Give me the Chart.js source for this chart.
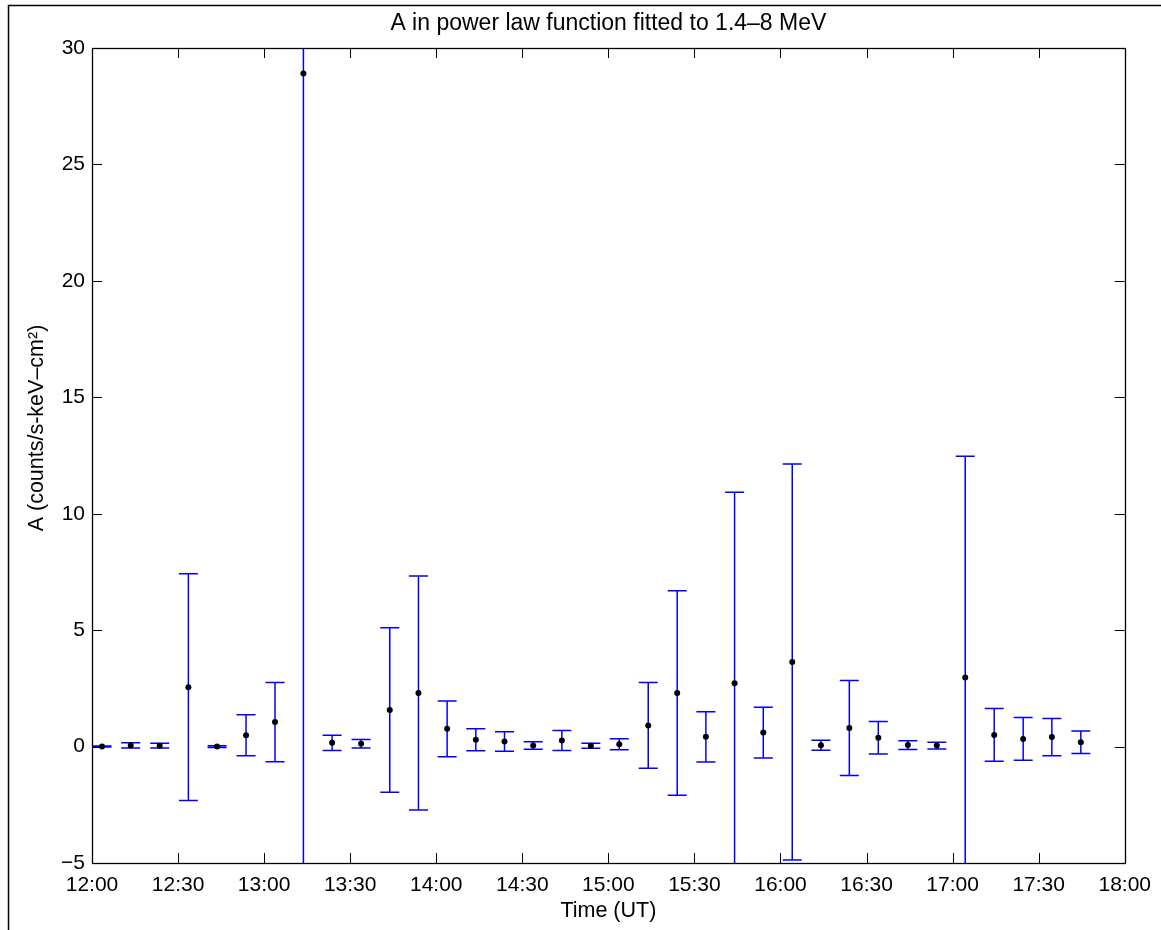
<!DOCTYPE html>
<html>
<head>
<meta charset="utf-8">
<script src="https://cdn.jsdelivr.net/npm/chart.js@4/dist/chart.umd.min.js"></script>
<style>
html,body{margin:0;padding:0;background:#fff;}
#wrap{width:1161px;height:930px;position:relative;}
canvas{display:block;}
</style>
</head>
<body>
<div id="wrap"><canvas id="c" width="1161" height="930"></canvas></div>
<script>
// Time of each fit, minutes after 12:00 UT
const timesMin = [3.5, 13.5, 23.6, 33.6, 43.6, 53.7, 63.8, 73.7, 83.7, 93.8,
  103.8, 113.8, 123.8, 133.8, 143.8, 153.8, 163.8, 173.9, 183.8, 193.9,
  204.0, 214.0, 224.0, 234.0, 244.1, 254.1, 264.0, 274.1, 284.4, 294.5,
  304.4, 314.5, 324.6, 334.6, 344.7];
// Fitted A values (counts/s-keV-cm^2)
const aValues = [0.00, 0.05, 0.04, 2.55, 0.00, 0.49, 1.05, 28.9, 0.16, 0.12,
  1.57, 2.30, 0.76, 0.29, 0.22, 0.05, 0.26, 0.035, 0.10, 0.91,
  2.30, 0.42, 2.72, 0.60, 3.63, 0.06, 0.80, 0.38, 0.065, 0.045,
  2.97, 0.50, 0.33, 0.41, 0.185];
// 1-sigma errors on A
const aErrors = [0.02, 0.11, 0.105, 4.87, 0.04, 0.88, 1.70, 36.0, 0.33, 0.18,
  3.53, 5.02, 1.20, 0.47, 0.42, 0.16, 0.43, 0.105, 0.24, 1.84,
  4.39, 1.08, 8.2, 1.09, 8.5, 0.215, 2.04, 0.70, 0.19, 0.145,
  9.5, 1.13, 0.92, 0.80, 0.485];
const xTickValues = [0, 30, 60, 90, 120, 150, 180, 210, 240, 270, 300, 330, 360];
const xTickLabels = ['12:00','12:30','13:00','13:30','14:00','14:30','15:00','15:30','16:00','16:30','17:00','17:30','18:00'];
const yTickValues = [-5, 0, 5, 10, 15, 20, 25, 30];
const yTickLabels = ['\u22125','0','5','10','15','20','25','30'];
const titleText = 'A in power law function fitted to 1.4\u20138 MeV';
const xLabelText = 'Time (UT)';
const yLabelText = 'A (counts/s-keV\u2013cm\u00b2)';

const FONT = "'Liberation Sans', Arial, Helvetica, sans-serif";
const BLUE = '#0000ff';

const matlabPlugin = {
  id: 'matlabPlugin',
  beforeDraw(chart) {
    const ctx = chart.ctx;
    ctx.save();
    ctx.fillStyle = '#fff';
    ctx.fillRect(0, 0, chart.width, chart.height);
    ctx.strokeStyle = '#000';
    ctx.lineWidth = 1.5;
    ctx.beginPath();
    ctx.moveTo(8.5, chart.height);
    ctx.lineTo(8.5, 5.5);
    ctx.lineTo(chart.width, 5.5);
    ctx.stroke();
    ctx.restore();
  },
  beforeDatasetsDraw(chart) {
    const ctx = chart.ctx, a = chart.chartArea;
    const xs = chart.scales.x, ys = chart.scales.y;
    const cap = 9.5;
    ctx.save();
    ctx.beginPath();
    ctx.rect(a.left, a.top, a.right - a.left, a.bottom - a.top);
    ctx.clip();
    ctx.strokeStyle = BLUE;
    ctx.lineWidth = 1.5;
    for (let i = 0; i < timesMin.length; i++) {
      const px = xs.getPixelForValue(timesMin[i]);
      const hi = ys.getPixelForValue(aValues[i] + aErrors[i]);
      const lo = ys.getPixelForValue(aValues[i] - aErrors[i]);
      ctx.beginPath();
      ctx.moveTo(px, lo); ctx.lineTo(px, hi);
      ctx.moveTo(px - cap, hi); ctx.lineTo(px + cap, hi);
      ctx.moveTo(px - cap, lo); ctx.lineTo(px + cap, lo);
      ctx.stroke();
    }
    ctx.restore();
  },
  afterDatasetsDraw(chart) {
    const ctx = chart.ctx, a = chart.chartArea;
    const xs = chart.scales.x, ys = chart.scales.y;
    const tl = 10;
    ctx.save();
    ctx.strokeStyle = '#000';
    ctx.lineWidth = 1;
    ctx.beginPath();
    for (const v of xTickValues) {
      const px = Math.round(xs.getPixelForValue(v)) + 0.5;
      ctx.moveTo(px, a.bottom); ctx.lineTo(px, a.bottom - tl);
      ctx.moveTo(px, a.top); ctx.lineTo(px, a.top + tl);
    }
    for (const v of yTickValues) {
      const py = Math.round(ys.getPixelForValue(v)) + 0.5;
      ctx.moveTo(a.left, py); ctx.lineTo(a.left + tl, py);
      ctx.moveTo(a.right, py); ctx.lineTo(a.right - tl, py);
    }
    ctx.stroke();
    ctx.lineWidth = 1.3;
    ctx.strokeRect(Math.round(a.left) + 0.5, Math.round(a.top) + 0.5,
      Math.round(a.right - a.left), Math.round(a.bottom - a.top));
    ctx.restore();
  },
  afterDraw(chart) {
    // y-axis label, placed as in the original figure (slightly above axis centre)
    const ctx = chart.ctx;
    ctx.save();
    ctx.fillStyle = '#000';
    ctx.font = '21.5px ' + FONT;
    ctx.textAlign = 'center';
    ctx.textBaseline = 'middle';
    ctx.translate(37, 428);
    ctx.rotate(-Math.PI / 2);
    ctx.fillText(yLabelText, 0, 0);
    ctx.restore();
  }
};

new Chart(document.getElementById('c'), {
  type: 'scatter',
  data: {
    datasets: [{
      label: 'A',
      xAxisID: 'x',
      yAxisID: 'y',
      data: timesMin.map((t, i) => ({ x: t, y: aValues[i] })),
      pointRadius: 3,
      pointHoverRadius: 3,
      pointBackgroundColor: '#000',
      pointBorderWidth: 0,
      showLine: false
    }]
  },
  options: {
    responsive: false,
    devicePixelRatio: 1,
    animation: false,
    events: [],
    layout: { padding: { left: 0, right: 34, top: 0, bottom: 0 } },
    plugins: {
      legend: { display: false },
      tooltip: { enabled: false },
      title: { display: false }
    },
    scales: {
      x: {
        type: 'linear',
        position: 'bottom',
        min: 0, max: 360,
        afterFit(s) { s.height = 67; },
        afterBuildTicks(s) { s.ticks = xTickValues.map(v => ({ value: v })); },
        grid: { display: false, drawTicks: false },
        border: { display: false },
        ticks: {
          autoSkip: false, maxRotation: 0, padding: 10,
          color: '#000',
          font: { family: FONT, size: 21 },
          callback: (v) => xTickLabels[xTickValues.indexOf(v)]
        },
        title: {
          display: true, text: xLabelText, color: '#000',
          font: { family: FONT, size: 21.5 },
          padding: { top: 0, bottom: 6 }
        }
      },
      titleAxis: {
        type: 'linear',
        position: 'top',
        min: 0, max: 360,
        afterFit(s) { s.height = 48; },
        grid: { display: false, drawTicks: false },
        border: { display: false },
        ticks: { display: false },
        title: {
          display: true,
          text: titleText,
          color: '#000',
          font: { family: FONT, size: 23 },
          padding: { top: 10, bottom: 0 }
        }
      },
      y: {
        type: 'linear',
        position: 'left',
        min: -5, max: 30,
        afterFit(s) { s.width = 92; },
        afterBuildTicks(s) { s.ticks = yTickValues.map(v => ({ value: v })); },
        grid: { display: false, drawTicks: false },
        border: { display: false },
        ticks: {
          autoSkip: false, padding: 7,
          color: '#000',
          font: { family: FONT, size: 21 },
          callback: (v) => yTickLabels[yTickValues.indexOf(v)]
        },
        title: { display: false }
      }
    }
  },
  plugins: [matlabPlugin]
});
</script>
</body>
</html>
